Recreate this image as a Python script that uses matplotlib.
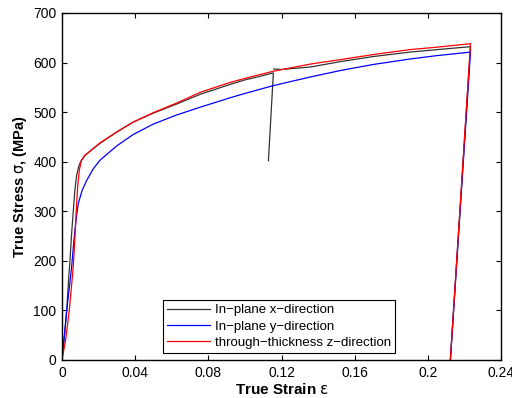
import matplotlib
matplotlib.use("Agg")
import matplotlib.pyplot as plt

plt.rcParams["font.family"] = ["Liberation Sans", "DejaVu Sans"]

# x-direction: loading to first stop, unload, then reload segment
x_strain_a = [0, 0.0015, 0.0026, 0.0035, 0.0044, 0.0053, 0.0062, 0.0070, 0.0080, 0.0092,
              0.0105, 0.0125, 0.0153, 0.0208, 0.030, 0.039, 0.050, 0.0625, 0.0756, 0.092,
              0.100, 0.1080, 0.1155, 0.1128]
x_stress_a = [0, 55, 100, 155, 202, 256, 300, 340, 372, 391,
              402, 412, 421, 437, 460, 480, 498, 516, 536, 556,
              565, 572, 579, 402]
x_strain_b = [0.1157, 0.1200, 0.1359, 0.1523, 0.170, 0.190, 0.205, 0.2232, 0.2122]
x_stress_b = [587, 586, 591, 602, 612, 621, 626, 632, 0]

y_strain = [0, 0.0015, 0.0026, 0.0040, 0.0053, 0.0065, 0.0077, 0.0089, 0.0110, 0.0135,
            0.0170, 0.0208, 0.030, 0.039, 0.050, 0.0625, 0.0756, 0.092, 0.0975, 0.1150,
            0.1359, 0.1523, 0.170, 0.190, 0.205, 0.2232, 0.2122]
y_stress = [0, 55, 100, 145, 188, 240, 283, 315, 342, 362,
            385, 403, 432, 455, 476, 494, 510, 529, 535, 553,
            571, 584, 596, 607, 614, 621, 0]

z_strain = [0, 0.0020, 0.0040, 0.0055, 0.0062, 0.0070, 0.0078, 0.0086, 0.0095, 0.0106,
            0.0125, 0.0153, 0.0208, 0.030, 0.039, 0.050, 0.0625, 0.0756, 0.092, 0.100,
            0.1150, 0.1359, 0.1523, 0.170, 0.190, 0.205, 0.2232, 0.2122]
z_stress = [0, 40, 100, 160, 190, 240, 300, 350, 383, 402,
            413, 421, 438, 460, 480, 499, 518, 540, 560, 568,
            582, 597, 606, 616, 626, 631, 638, 0]

x_ticks = [0, 0.04, 0.08, 0.12, 0.16, 0.2, 0.24]
x_tick_labels = ["0", "0.04", "0.08", "0.12", "0.16", "0.2", "0.24"]
y_ticks = [0, 100, 200, 300, 400, 500, 600, 700]

fig = plt.figure(figsize=(5.12, 3.98), dpi=100)
ax = fig.add_axes([0.121, 0.0955, 0.858, 0.872])

ax.plot(x_strain_a, x_stress_a, color="#333333", lw=0.9, label="In\u2212plane x\u2212direction")
ax.plot(x_strain_b, x_stress_b, color="#333333", lw=0.9)
ax.plot(y_strain, y_stress, color="#0000ff", lw=0.9, label="In\u2212plane y\u2212direction")
ax.plot(z_strain, z_stress, color="#ff0000", lw=0.9, label="through\u2212thickness z\u2212direction")

ax.set_xlim(0, 0.24)
ax.set_ylim(0, 700)
ax.set_xticks(x_ticks)
ax.set_xticklabels(x_tick_labels)
ax.set_yticks(y_ticks)
ax.tick_params(direction="in", top=True, right=True, labelsize=10, length=3.5, width=0.8, pad=4)
for s in ax.spines.values():
    s.set_linewidth(1.0)

ax.set_xlabel(r"True Strain $\mathrm{\varepsilon}$", fontsize=11, fontweight="bold", labelpad=2)
ax.set_ylabel(r"True Stress $\mathrm{\sigma}$, (MPa)", fontsize=10.5, fontweight="bold", labelpad=3)

leg = ax.legend(loc="lower left", bbox_to_anchor=(0.231, 0.021), fontsize=9.5,
                handlelength=3.2, handletextpad=0.4, borderpad=0.3, borderaxespad=0,
                labelspacing=0.3, fancybox=False, framealpha=1)
leg.get_frame().set_edgecolor("black")
leg.get_frame().set_linewidth(0.8)

fig.savefig("out.png", dpi=100)
